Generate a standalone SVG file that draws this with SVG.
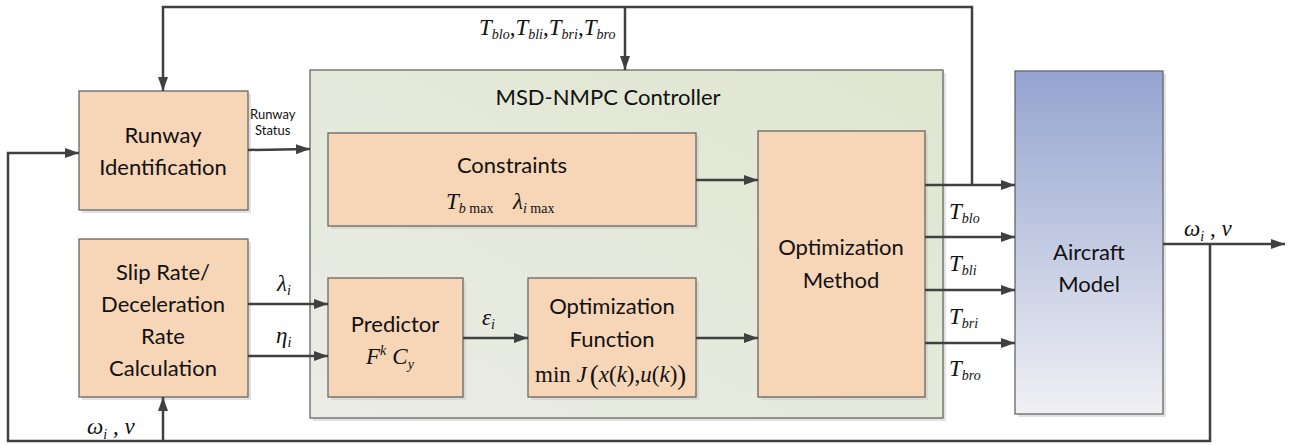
<svg xmlns="http://www.w3.org/2000/svg" width="1294" height="445" viewBox="0 0 1294 445">
  <defs>
    <marker id="arr" viewBox="0 0 14 10" refX="14" refY="5" markerWidth="14" markerHeight="10" markerUnits="userSpaceOnUse" orient="auto">
      <path d="M0,0 L14,5 L0,10 z" fill="#404040"/>
    </marker>
    <linearGradient id="ctrlFill" x1="1" y1="0" x2="0" y2="1">
      <stop offset="0" stop-color="#dfe6cf"/>
      <stop offset="1" stop-color="#ebece6"/>
    </linearGradient>
    <linearGradient id="planeFill" x1="0" y1="0" x2="0" y2="1">
      <stop offset="0" stop-color="#94a4d0"/>
      <stop offset="1" stop-color="#f0f0f4"/>
    </linearGradient>
    <style>
      .blk { fill: #f7d5b7; stroke: #666; stroke-width: 1.3; }
      .shd { fill: #c8c8c8; opacity: 0.55; }
      .wire { fill: none; stroke: #404040; stroke-width: 2.5; }
      .lbl { font-family: Lato, "Open Sans", sans-serif; font-size: 22px; fill: #111; text-anchor: middle; }
      .small { font-family: Lato, "Open Sans", sans-serif; font-size: 13px; fill: #111; }
      .math { font-family: "Liberation Serif", "Times New Roman", serif; font-style: italic; font-size: 23px; fill: #111; }
      .sub { font-size: 14px; }
      .rm { font-style: normal; }
    </style>
  </defs>

  <!-- controller container -->
  <g id="controller">
    <rect x="313" y="73" width="633" height="348" class="shd"/>
    <rect x="310" y="70" width="633" height="348" fill="url(#ctrlFill)" stroke="#666" stroke-width="1.3"/>
    <text x="608" y="105" class="lbl" font-size="20">MSD-NMPC Controller</text>
  </g>

  <g id="runway">
    <rect x="82" y="94" width="169" height="119" class="shd"/>
    <rect x="79" y="91" width="169" height="119" class="blk"/>
    <text x="163" y="143" class="lbl">Runway</text>
    <text x="163" y="175" class="lbl">Identification</text>
  </g>

  <g id="sliprate">
    <rect x="82" y="242" width="169" height="158" class="shd"/>
    <rect x="79" y="239" width="169" height="158" class="blk"/>
    <text x="163" y="280" class="lbl">Slip Rate/</text>
    <text x="163" y="312" class="lbl">Deceleration</text>
    <text x="163" y="344" class="lbl">Rate</text>
    <text x="163" y="376" class="lbl">Calculation</text>
  </g>

  <g id="constraints">
    <rect x="331" y="136" width="368" height="93" class="shd"/>
    <rect x="328" y="133" width="368" height="93" class="blk"/>
    <text x="512" y="173" class="lbl">Constraints</text>
    <text x="446" y="209" class="math" font-size="20">T<tspan class="sub" dy="4">b</tspan><tspan class="sub rm"> max</tspan></text>
    <text x="513" y="209" class="math" font-size="20">λ<tspan class="sub" dy="4">i</tspan><tspan class="sub rm"> max</tspan></text>
  </g>

  <g id="predictor">
    <rect x="331" y="281" width="135" height="119" class="shd"/>
    <rect x="328" y="278" width="135" height="119" class="blk"/>
    <text x="395" y="332" class="lbl">Predictor</text>
    <text x="366" y="364" class="math" font-size="21">F<tspan class="sub" dy="-9">k</tspan><tspan dx="6" dy="9">C</tspan><tspan class="sub" dy="5">y</tspan></text>
  </g>

  <g id="optfunction">
    <rect x="531" y="281" width="168" height="119" class="shd"/>
    <rect x="528" y="278" width="168" height="119" class="blk"/>
    <text x="612" y="314" class="lbl">Optimization</text>
    <text x="612" y="347" class="lbl">Function</text>
    <text x="535" y="382" class="math" font-size="20"><tspan class="rm">min</tspan> J<tspan class="rm" font-size="27" dx="3" dy="2">(</tspan><tspan dy="-2">x</tspan><tspan class="rm">(</tspan>k<tspan class="rm">),</tspan>u<tspan class="rm">(</tspan>k<tspan class="rm">)</tspan><tspan class="rm" font-size="27" dy="2">)</tspan></text>
  </g>

  <g id="optmethod">
    <rect x="761" y="134" width="167" height="266" class="shd"/>
    <rect x="758" y="131" width="167" height="266" class="blk"/>
    <text x="841" y="255" class="lbl">Optimization</text>
    <text x="841" y="288" class="lbl">Method</text>
  </g>

  <g id="aircraft">
    <rect x="1018" y="74" width="148" height="343" class="shd"/>
    <rect x="1015" y="71" width="148" height="343" fill="url(#planeFill)" stroke="#666" stroke-width="1.3"/>
    <text x="1089" y="260" class="lbl">Aircraft</text>
    <text x="1089" y="292" class="lbl">Model</text>
  </g>

  <g id="connectors">
    <!-- torque feedback over the top -->
    <path d="M972,185 V7 H163 V91" class="wire" marker-end="url(#arr)"/>
    <path d="M625,7 V70" class="wire" marker-end="url(#arr)"/>
    <!-- state feedback along the bottom -->
    <path d="M1210,244 V441 H8 V153 H79" class="wire" marker-end="url(#arr)"/>
    <path d="M163,441 V397" class="wire" marker-end="url(#arr)"/>
    <!-- forward signal paths -->
    <path d="M248,150 L310,149" class="wire" marker-end="url(#arr)"/>
    <path d="M248,304 H328" class="wire" marker-end="url(#arr)"/>
    <path d="M248,356 H328" class="wire" marker-end="url(#arr)"/>
    <path d="M463,338 H528" class="wire" marker-end="url(#arr)"/>
    <path d="M696,338 H758" class="wire" marker-end="url(#arr)"/>
    <path d="M696,180 H758" class="wire" marker-end="url(#arr)"/>
    <path d="M925,185 H1015" class="wire" marker-end="url(#arr)"/>
    <path d="M925,237 H1015" class="wire" marker-end="url(#arr)"/>
    <path d="M925,290 H1015" class="wire" marker-end="url(#arr)"/>
    <path d="M925,343 H1015" class="wire" marker-end="url(#arr)"/>
    <path d="M1163,244 H1285" class="wire" marker-end="url(#arr)"/>
  </g>

  <g id="labels">
    <text x="479" y="35" class="math">T<tspan class="sub" dy="4">blo</tspan><tspan class="rm" dy="-4">,</tspan>T<tspan class="sub" dy="4">bli</tspan><tspan class="rm" dy="-4">,</tspan>T<tspan class="sub" dy="4">bri</tspan><tspan class="rm" dy="-4">,</tspan>T<tspan class="sub" dy="4">bro</tspan></text>
    <text x="250" y="119" class="small">Runway</text>
    <text x="255" y="135" class="small">Status</text>
    <text x="277" y="291" class="math" font-size="24">λ<tspan class="sub" dy="4">i</tspan></text>
    <text x="276" y="343" class="math">η<tspan class="sub" dy="4">i</tspan></text>
    <text x="482" y="325" class="math" font-size="24">ε<tspan class="sub" dy="4">i</tspan></text>
    <text x="949" y="219" class="math">T<tspan class="sub" dy="4">blo</tspan></text>
    <text x="949" y="271" class="math">T<tspan class="sub" dy="4">bli</tspan></text>
    <text x="949" y="324" class="math">T<tspan class="sub" dy="4">bri</tspan></text>
    <text x="949" y="376" class="math">T<tspan class="sub" dy="4">bro</tspan></text>
    <text x="1184" y="236" class="math" font-size="29">ω<tspan class="sub" font-size="16" dy="5">i</tspan><tspan class="rm" dy="-5"> ,</tspan> v</text>
    <text x="87" y="434" class="math" font-size="29">ω<tspan class="sub" font-size="16" dy="5">i</tspan><tspan class="rm" dy="-5"> ,</tspan> v</text>
  </g>
</svg>
